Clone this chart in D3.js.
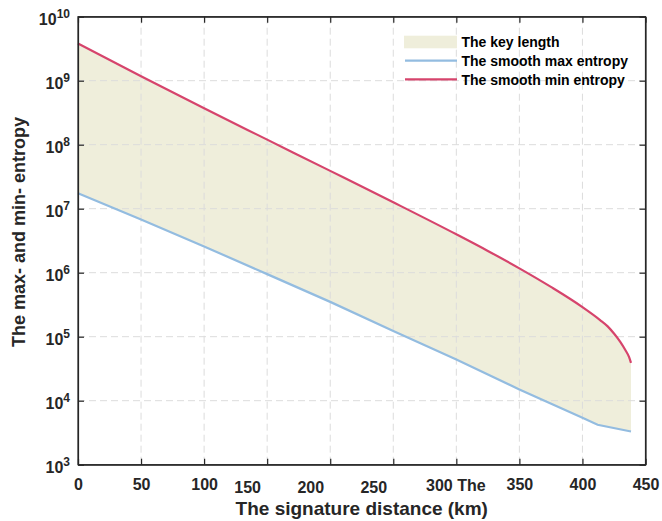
<!DOCTYPE html>
<html>
<head>
<meta charset="UTF-8">
<title>max- and min- entropy</title>
<script src="https://d3js.org/d3.v7.min.js"></script>
<style>
  body { margin: 0; background: #fff; }
  text { font-family: "Liberation Sans", Arial, sans-serif; font-weight: bold; fill: #262626; }
</style>
</head>
<body>
<svg id="svg" width="662" height="521"></svg>
<script>
// data
var minDist = [0, 50, 100, 150, 200, 250, 300, 325, 350, 375, 400, 414, 420, 425, 430, 434, 437, 438.5];
var minEntropy = [3.8e9, 1.17e9, 3.7e8, 1.2e8, 3.9e7, 1.26e7, 3.98e6, 2.19e6, 1.17e6, 6.0e5, 2.9e5, 1.82e5, 1.45e5, 1.12e5, 8.3e4, 6.2e4, 4.8e4, 3.9e4];
var maxDist = [0, 50, 100, 150, 200, 250, 300, 350, 400, 412, 438.5];
var maxEntropy = [1.74e7, 6.8e6, 2.57e6, 9.5e5, 3.5e5, 1.23e5, 4.4e4, 1.5e4, 5.4e3, 4.2e3, 3.3e3];

var xTicks = [0, 50, 100, 150, 200, 250, 300, 350, 400, 450];
var xTickLabels = ["0", "50", "100", "150", "200", "250", "300 The", "350", "400", "450"];
var xLabelShift = [[0,0],[0,0],[0,0],[-20,3],[-20,3],[-20,3],[-1,1.5],[0,0],[0,0],[0,0]];
var yExponents = [3, 4, 5, 6, 7, 8, 9, 10];
var legendLabels = ["The key length", "The smooth max entropy", "The smooth min entropy"];

var colFill = "#efeedb", colMax = "#93bce0", colMin = "#d6446c", colAxis = "#262626";

var svg = d3.select("svg");
var L = 78, R = 645.5, T = 16.7, B = 464.7;

var x = d3.scaleLinear().domain([0, 450]).range([L, R]);
var y = d3.scaleLog().domain([1e3, 1e10]).range([B, T]);

var minPts = minDist.map(function(d, i) { return [d, minEntropy[i]]; });
var maxPts = maxDist.map(function(d, i) { return [d, maxEntropy[i]]; });

var line = d3.line()
    .x(function(d) { return x(d[0]); })
    .y(function(d) { return y(d[1]); });
var smooth = d3.line()
    .x(function(d) { return x(d[0]); })
    .y(function(d) { return y(d[1]); })
    .curve(d3.curveMonotoneX);

// key length band: upper edge smooth, lower edge straight pieces
var upper = smooth(minPts);
var lower = line(maxPts.slice().reverse()).replace(/^M/, "L");
svg.append("path")
    .attr("d", upper + lower + "Z")
    .style("fill", colFill);

// grid
var grid = svg.append("g").style("stroke", "#dcdcdc").style("stroke-width", 1).style("stroke-dasharray", "7,4");
grid.selectAll(".gx").data(xTicks.slice(1, -1)).enter().append("line")
    .attr("x1", function(d) { return x(d); }).attr("x2", function(d) { return x(d); })
    .attr("y1", T).attr("y2", B);
grid.selectAll(".gy").data(yExponents.slice(1, -1)).enter().append("line")
    .attr("y1", function(d) { return y(Math.pow(10, d)); }).attr("y2", function(d) { return y(Math.pow(10, d)); })
    .attr("x1", L).attr("x2", R);

// curves
svg.append("path").attr("d", line(maxPts))
    .style("fill", "none").style("stroke", colMax).style("stroke-width", 2.2);
svg.append("path").attr("d", smooth(minPts))
    .style("fill", "none").style("stroke", colMin).style("stroke-width", 2.2);

// axes (inward ticks on all four sides)
var yTickVals = yExponents.map(function(e) { return Math.pow(10, e); });

var gx = svg.append("g").attr("transform", "translate(0," + B + ")")
    .call(d3.axisBottom(x).tickValues(xTicks).tickSize(-6).tickSizeOuter(0)
        .tickFormat(function(d, i) { return xTickLabels[i]; }));
gx.selectAll("text")
    .attr("dy", null)
    .attr("y", function(d, i) { return 25.3 + xLabelShift[i][1]; })
    .attr("x", function(d, i) { return xLabelShift[i][0]; })
    .style("font-size", "16px");

svg.append("g").attr("transform", "translate(0," + T + ")")
    .call(d3.axisTop(x).tickValues(xTicks).tickSize(-6).tickSizeOuter(0).tickFormat(""));
svg.append("g").attr("transform", "translate(" + R + ",0)")
    .call(d3.axisRight(y).tickValues(yTickVals).tickSize(-6).tickSizeOuter(0).tickFormat(""));

var gy = svg.append("g").attr("transform", "translate(" + L + ",0)")
    .call(d3.axisLeft(y).tickValues(yTickVals).tickSize(-6).tickSizeOuter(0).tickFormat(""));
gy.selectAll(".tick").append("text")
    .attr("x", -8).attr("y", 8)
    .style("text-anchor", "end")
    .each(function(d) {
        var t = d3.select(this);
        t.append("tspan").text("10").style("font-size", "16px");
        t.append("tspan").attr("dy", -7.5).text(Math.round(Math.log10(d))).style("font-size", "12px");
    });

svg.selectAll(".domain").style("stroke", colAxis).style("stroke-width", 1.2);
svg.selectAll(".tick line").style("stroke", colAxis).style("stroke-width", 1.2);
svg.selectAll(".tick text").style("fill", colAxis).style("font-family", "'Liberation Sans', Arial, sans-serif").style("font-weight", "bold");

// frame
svg.append("rect").attr("x", L).attr("y", T).attr("width", R - L).attr("height", B - T)
    .style("fill", "none").style("stroke", colAxis).style("stroke-width", 1.2);

// axis titles
svg.append("text")
    .attr("x", (L + R) / 2).attr("y", 515)
    .style("text-anchor", "middle").style("font-size", "19px")
    .text("The signature distance (km)");
svg.append("text")
    .attr("transform", "translate(24.5,232) rotate(-90)")
    .style("text-anchor", "middle").style("font-size", "18px")
    .text("The max- and min- entropy");

// legend
var lg = svg.append("g");
lg.append("rect").attr("x", 404).attr("y", 35.7).attr("width", 53).attr("height", 12.6).style("fill", colFill);
lg.append("line").attr("x1", 405).attr("x2", 457).attr("y1", 60.7).attr("y2", 60.7)
    .style("stroke", colMax).style("stroke-width", 2.2);
lg.append("line").attr("x1", 405).attr("x2", 457).attr("y1", 79.3).attr("y2", 79.3)
    .style("stroke", colMin).style("stroke-width", 2.2);
lg.selectAll(".lt").data(legendLabels).enter().append("text")
    .attr("x", 461.5)
    .attr("y", function(d, i) { return 47 + i * 18.9; })
    .style("font-size", "14px")
    .style("fill", "#000")
    .text(function(d) { return d; });
</script>
</body>
</html>
